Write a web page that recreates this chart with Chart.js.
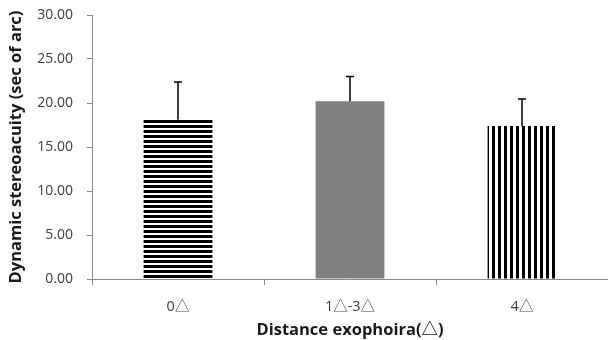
<!DOCTYPE html>
<html>
<head>
<meta charset="utf-8">
<script src="https://cdn.jsdelivr.net/npm/chart.js@4/dist/chart.umd.min.js"></script>
<style>
  html, body { margin: 0; padding: 0; background: #fff; }
  canvas { display: block; }
</style>
</head>
<body>
<canvas id="main-chart" width="608" height="340"></canvas>
<script>
const categories = ["0\u25B3", "1\u25B3-3\u25B3", "4\u25B3"];
const means = [18.1, 20.2, 17.4];
const errors = [4.3, 2.8, 3.05];
const yTicks = [0, 5, 10, 15, 20, 25, 30];

function stripes(vertical) {
  const c = document.createElement("canvas");
  c.width = vertical ? 6 : 1;
  c.height = vertical ? 1 : 5;
  const g = c.getContext("2d");
  g.fillStyle = "#fff";
  g.fillRect(0, 0, c.width, c.height);
  g.fillStyle = "#000";
  if (vertical) g.fillRect(0, 0, 3, 1);
  else g.fillRect(0, 0, 1, 3);
  return g.createPattern(c, "repeat");
}

const errorBars = {
  id: "errorBars",
  afterDatasetsDraw(chart) {
    const { ctx, scales: { x, y } } = chart;
    ctx.save();
    ctx.strokeStyle = "#000";
    ctx.lineWidth = 1.5;
    means.forEach((m, i) => {
      const px = x.getPixelForValue(i);
      const top = y.getPixelForValue(m + errors[i]);
      const base = y.getPixelForValue(m);
      ctx.beginPath();
      ctx.moveTo(px, base);
      ctx.lineTo(px, top);
      ctx.moveTo(px - 4, top);
      ctx.lineTo(px + 4, top);
      ctx.stroke();
    });
    ctx.restore();
  },
};

new Chart(document.getElementById("main-chart"), {
  type: "bar",
  data: {
    labels: categories,
    datasets: [{
      data: means,
      backgroundColor: [stripes(false), "#808080", stripes(true)],
      borderWidth: 0,
      barPercentage: 0.4,
      categoryPercentage: 1,
    }],
  },
  options: {
    responsive: false,
    animation: false,
    layout: { padding: { top: 15, right: 0, left: 0, bottom: 0 } },
    plugins: { legend: { display: false }, tooltip: { enabled: false } },
    scales: {
      y: {
        min: 0,
        max: 30,
        afterBuildTicks: (s) => { s.ticks = yTicks.map((v) => ({ value: v })); },
        afterFit: (s) => { s.width = 92; s.paddingTop = 0; s.paddingBottom = 0; },
        border: { color: "#8a8a8a", width: 1 },
        grid: { drawOnChartArea: false, drawTicks: true, tickLength: 5, color: "#8a8a8a" },
        ticks: {
          callback: (v) => Number(v).toFixed(2),
          color: "#404040",
          padding: 14,
          font: { family: "Open Sans", size: 14 },
        },
        title: {
          display: true,
          text: "Dynamic stereoacuity (sec of arc)",
          color: "#1a1a1a",
          font: { family: "Open Sans", size: 16.5, weight: "bold" },
          padding: { top: 6, bottom: 0 },
        },
      },
      x: {
        afterFit: (s) => { s.height = 61; s.paddingLeft = 0; s.paddingRight = 0; },
        border: { color: "#8a8a8a", width: 1 },
        grid: { drawOnChartArea: false, drawTicks: true, tickLength: 6, color: "#8a8a8a", offset: true },
        ticks: {
          color: "#404040",
          padding: 13,
          font: { family: "'Open Sans', 'Noto Sans CJK SC'", size: 14.5 },
        },
        title: {
          display: true,
          text: "Distance exophoira(\u25B3)",
          color: "#1a1a1a",
          font: { family: "'Open Sans', 'Noto Sans CJK SC'", size: 16.5, weight: "bold" },
          padding: { top: 0, bottom: 0 },
        },
      },
    },
  },
  plugins: [errorBars],
});
</script>
</body>
</html>
